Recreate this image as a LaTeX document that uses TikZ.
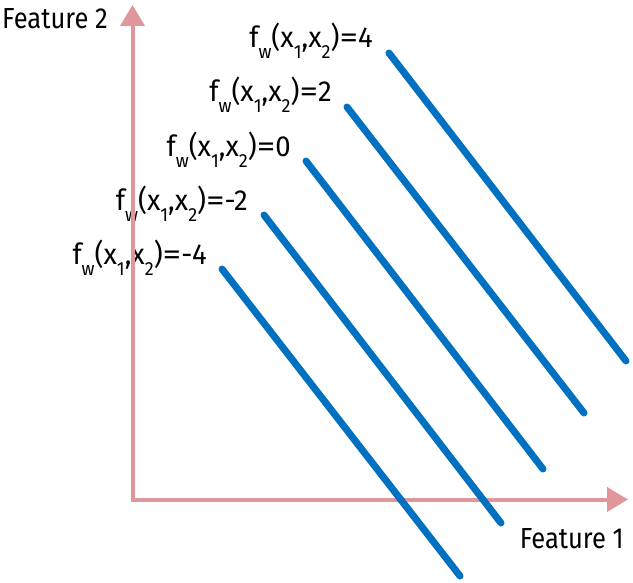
\documentclass[tikz,border=0pt]{standalone}
\usepackage{fontspec}
\setmainfont[FakeStretch=0.88]{Fira Sans}
\newfontfamily\lblfont[FakeStretch=0.95]{Fira Sans}
\usetikzlibrary{arrows.meta}
\definecolor{axispink}{HTML}{E0969A}
\definecolor{lineblue}{HTML}{0070C0}
\newcommand{\lsub}[1]{\raisebox{-11pt}{\fontsize{19}{19}\selectfont #1}}
\newcommand{\weq}{\scalebox{1.35}[1]{=}}
\newcommand{\fx}[1]{f\lsub{w}(x\lsub{1},x\lsub{2})\weq #1}
\begin{document}
\begin{tikzpicture}[x=1pt,y=-1pt,
  lbl/.style={inner sep=0pt, font=\lblfont\fontsize{29}{32}\selectfont},
  axlbl/.style={inner sep=0pt, font=\fontsize{29}{32}\selectfont},
  axisline/.style={draw=axispink, line width=4pt, line join=miter,
    {Triangle[length=21pt,width=24pt]}-{Triangle[length=21pt,width=24pt]}},
  blueline/.style={draw=lineblue, line width=7pt, line cap=round}]
\useasboundingbox (0,0) rectangle (633,583);
% labels
\node[lbl, anchor=base east] (l4) at (373,48) {\fx{4}};
\node[lbl, anchor=base east] (l2) at (332,102) {\fx{2}};
\node[lbl, anchor=base east] (l0) at (291,157) {\fx{0}};
\node[lbl, anchor=base east] (lm2) at (248,211) {\fx{-2}};
\node[lbl, anchor=base east] (lm4) at (207,265) {\fx{-4}};
\node[axlbl, anchor=base west] (f2) at (2,29) {Feature 2};
\node[axlbl, anchor=base east] (f1) at (624,548) {Feature 1};
% axes
\coordinate (o) at (132.5,499.5);
\coordinate (ytip) at (132.5,5);
\coordinate (xtip) at (628,499.5);
\draw[axisline] (ytip) -- (o) -- (xtip);
% level lines
\coordinate (s4) at (389,53);  \coordinate (e4) at (626,361);
\coordinate (s2) at (347,107); \coordinate (e2) at (584,413);
\coordinate (s0) at (306,161); \coordinate (e0) at (543,469);
\coordinate (sm2) at (264,215); \coordinate (em2) at (501,523);
\coordinate (sm4) at (222,269); \coordinate (em4) at (460,576);
\draw[blueline] (s4) -- (e4);
\draw[blueline] (s2) -- (e2);
\draw[blueline] (s0) -- (e0);
\draw[blueline] (sm2) -- (em2);
\draw[blueline] (sm4) -- (em4);
\end{tikzpicture}
\end{document}
